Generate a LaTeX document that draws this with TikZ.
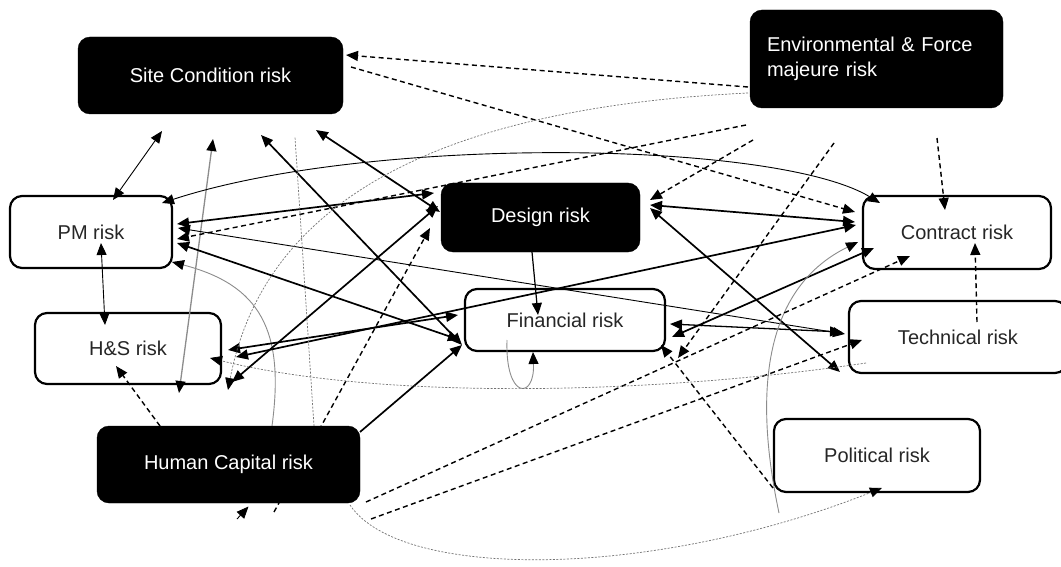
\documentclass[tikz,border=0pt]{standalone}
\usepackage{fontspec}
\setmainfont{Liberation Sans}
\usetikzlibrary{arrows.meta,calc}
\pgfdeclarelayer{bg}
\pgfdeclarelayer{front}
\pgfsetlayers{bg,main,front}
\begin{document}
\begin{tikzpicture}[x=1pt,y=-1pt,
  wbox/.style={draw=black, line width=2.2pt, rounded corners=12pt, fill=white, text=black!85, font=\fontsize{20}{25}\selectfont, inner sep=0pt},
  bbox/.style={draw=black, fill=black, rounded corners=12pt, text=white, font=\fontsize{20}{25}\selectfont, inner sep=0pt},
  ar/.style={-{Triangle[length=12pt,width=10pt,color=black]}},
  ra/.style={{Triangle[length=12pt,width=10pt,color=black]}-{Triangle[length=12pt,width=10pt,color=black]}},
  thk/.style={line width=1.7pt},
  thn/.style={line width=0.9pt},
  dsh/.style={line width=1.4pt, dash pattern=on 5pt off 3.5pt},
  dot/.style={line width=0.7pt, black!55, dash pattern=on 2pt off 1.5pt},
  gry/.style={line width=1pt, black!45}]
\useasboundingbox (0,0) rectangle (1061,567);

\begin{pgfonlayer}{bg}
\fill[white] (0,0) rectangle (1061,567);
\node[wbox, minimum width=162, minimum height=72] (pm) at (91,232) {PM risk};
\node[wbox, minimum width=188, minimum height=73] (contract) at (957,232.5) {Contract risk};
\node[wbox, minimum width=186, minimum height=71] (hs) at (128,348.5) {H\&S risk};
\node[wbox, minimum width=200, minimum height=62] (fin) at (565,320) {Financial risk};
\node[wbox, minimum width=218, minimum height=72] (tech) at (958,337) {Technical risk};
\node[wbox, minimum width=206, minimum height=73] (pol) at (877,455.5) {Political risk};
\end{pgfonlayer}

\begin{pgfonlayer}{front}
\node[bbox, minimum width=265, minimum height=77] (site) at (210.5,75.5) {Site Condition risk};
\node[bbox, minimum width=253, minimum height=98, text width=219pt, align=left] (env) at (876.5,59) {Environmental \& Force\\majeure risk};
\node[bbox, minimum width=199, minimum height=69] (design) at (540.5,217.5) {Design risk};
\node[bbox, minimum width=263, minimum height=77] (hc) at (228.5,464.5) {Human Capital risk};
\end{pgfonlayer}

% solid connectors
\draw[thn,ra] ($(pm)+(22,-32)$) -- ($(site)+(-48.5,55.5)$);
\draw[thn,ra] ($(pm)+(10,11)$) -- ($(hs)+(-23,-23.5)$);
\draw[gry,ra,line width=1.3pt] ($(site)+(2.5,63.5)$) -- ($(hs)+(51,44.5)$);
\draw[thk,ra] ($(site)+(50.5,59.5)$) -- ($(fin)+(-103,25)$);
\draw[thk,ra] ($(site)+(105.5,54.5)$) -- ($(design)+(-100.5,-5.5)$);
\draw[thk,ra] ($(pm)+(86,-8)$) -- ($(design)+(-106.5,-24.5)$);
\draw[thk,ra] ($(pm)+(86,11)$) -- ($(fin)+(-105,20)$);
\draw[thn,ra] ($(pm)+(87,-4)$) -- ($(tech)+(-113,-3)$);
\draw[thn,ra] ($(pm)+(71,-29)$) .. controls +(208,-68) and +(-104,-63) .. ($(contract)+(-77,-29.5)$);
\draw[gry,ar,line width=0.9pt] ($(hc)+(43.5,-38.5)$) .. controls +(13,-96) and +(88,23) .. ($(pm)+(81,30)$);
\draw[thk,ra] ($(hs)+(104,33.5)$) -- ($(design)+(-102.5,-11.5)$);
\draw[thk,ra] ($(hs)+(100,1.5)$) -- ($(fin)+(-107,-5)$);
\draw[thk,ra] ($(hs)+(108,8.5)$) -- ($(contract)+(-101,-7.5)$);
\draw[thk,ar] ($(hc)+(131.5,-32.5)$) -- ($(fin)+(-103,25)$);
\draw[thn,ar,line width=1.2pt] ($(design)+(-8.5,34.5)$) -- ($(fin)+(-27,-5)$);
\draw[gry,ar,line width=0.9pt] ($(fin)+(-58,20)$) .. controls +(-2,60) and +(2,48) .. ($(fin)+(-32,32)$);
\draw[thk,ra] ($(design)+(109.5,-12.5)$) -- ($(contract)+(-102,-10.5)$);
\draw[thk,ra] ($(design)+(109.5,-9.5)$) -- ($(tech)+(-118,35)$);
\draw[thn,ra,line width=1.3pt] ($(fin)+(105,4)$) -- ($(tech)+(-116,-5)$);
\draw[thk,ra] ($(fin)+(107,17)$) -- ($(contract)+(-83,15.5)$);
\coordinate (g1) at (779,513);
\draw[gry,ar,line width=0.9pt] (g1) .. controls +(-24,-113) and +(-98,48) .. ($(contract)+(-99,9.5)$);
\coordinate (g2) at (237,519);
\draw[thn,ar] (g2) -- ($(hc)+(20,42)$);

% dashed connectors
\draw[dsh,ar] ($(env)+(-130.5,66)$) -- ($(pm)+(86,7)$);
\draw[dsh,ar] ($(env)+(-128.5,28)$) -- ($(site)+(135.5,-20.5)$);
\draw[dsh,ar] ($(site)+(140.5,-8.5)$) -- ($(contract)+(-102,-20.5)$);
\draw[dsh,ar] ($(env)+(-123.5,81)$) -- ($(design)+(109.5,-17.5)$);
\draw[dsh,ar] ($(env)+(-42.5,84)$) -- ($(fin)+(113,38)$);
\draw[dsh,ar] ($(env)+(60.5,79)$) -- ($(contract)+(-12,-22.5)$);
\draw[dsh,ar] ($(tech)+(19,-15)$) -- ($(contract)+(18,10.5)$);
\draw[dsh,ar] ($(hc)+(45.5,47.5)$) -- ($(design)+(-110.5,10.5)$);
\draw[dsh,ar] ($(hc)+(-68.5,-38.5)$) -- ($(hs)+(-12,17.5)$);
\draw[dsh,ar] ($(hc)+(137.5,37.5)$) -- ($(contract)+(-47,23.5)$);
\draw[dsh,ar] ($(hc)+(142.5,54.5)$) -- ($(tech)+(-96,3)$);
\draw[dsh,ar] ($(pol)+(-104,32.5)$) -- ($(fin)+(96,25)$);

% dotted connectors
\draw[dot,ar] ($(env)+(-128.5,34)$) .. controls +(-248,12) and +(42,-220) .. ($(hs)+(100,41.5)$);
\draw[dot] ($(hc)+(85.5,-38.5)$) -- ($(site)+(84.5,61.5)$);
\draw[dot,ar] ($(tech)+(-92,26)$) .. controls +(-216,32) and +(170,42) .. ($(hs)+(82,9.5)$);
\draw[dot,ar] ($(hc)+(121.5,40.5)$) .. controls +(50,75) and +(-232,92) .. ($(pol)+(5,32.5)$);
\end{tikzpicture}
\end{document}
